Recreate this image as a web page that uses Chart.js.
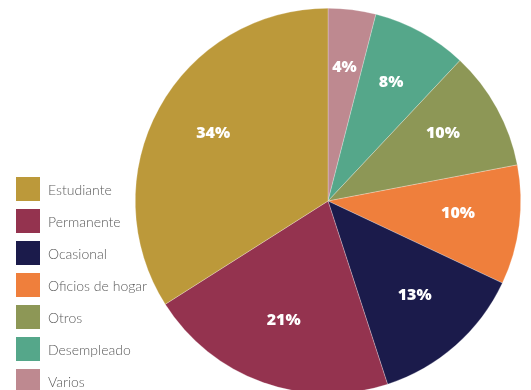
<!DOCTYPE html>
<html>
<head>
<meta charset="utf-8">
<script src="https://cdn.jsdelivr.net/npm/chart.js@4"></script>
<style>
    html, body {
        margin: 0;
        padding: 0;
        background: #ffffff;
        overflow: hidden;
    }
    #wrap {
        position: relative;
        width: 531px;
        height: 410px;
    }
    /* legend sits bottom-left, next to the pie */
    #leyenda {
        position: absolute;
        left: 16px;
        top: 177px;
        margin: 0;
        padding: 0;
        list-style: none;
        font-family: Lato, "Open Sans", sans-serif;
        font-weight: 300;
        font-size: 14px;
        color: #5a5a5a;
    }
    #leyenda li {
        display: flex;
        align-items: center;
        height: 24px;
        margin-bottom: 8px;
        white-space: nowrap;
    }
    #leyenda .box {
        width: 24px;
        height: 24px;
        margin-right: 8px;
    }
</style>
</head>
<body>
<div id="wrap">
    <canvas id="ocupacionChart"></canvas>
    <ul id="leyenda"></ul>
</div>
<script>
// Legend order (top to bottom)
const categorias = ['Estudiante', 'Permanente', 'Ocasional', 'Oficios de hogar', 'Otros', 'Desempleado', 'Varios'];
const porcentajes = [34, 21, 13, 10, 10, 8, 4];
const colores = ['#BC993A', '#94334F', '#1B1B4B', '#EF7F3C', '#8D9756', '#55A78A', '#BE8990'];

// Slices run clockwise from the top starting with "Varios",
// so the dataset is the legend order reversed
const labelsPie = categorias.slice().reverse();
const dataPie = porcentajes.slice().reverse();
const coloresPie = colores.slice().reverse();

// HTML legend
const leyenda = document.getElementById('leyenda');
categorias.forEach((nombre, i) => {
    const li = document.createElement('li');
    const box = document.createElement('span');
    box.className = 'box';
    box.style.background = colores[i];
    li.appendChild(box);
    li.appendChild(document.createTextNode(nombre));
    leyenda.appendChild(li);
});

// Draw the percentage inside each slice
const percentLabels = {
    id: 'percentLabels',
    afterDatasetsDraw(chart) {
        const ctx = chart.ctx;
        const meta = chart.getDatasetMeta(0);
        ctx.save();
        ctx.fillStyle = '#ffffff';
        ctx.font = '800 16px "Open Sans", "Noto Sans", sans-serif';
        ctx.textAlign = 'center';
        ctx.textBaseline = 'middle';
        meta.data.forEach((arc, i) => {
            const p = arc.getProps(['x', 'y', 'startAngle', 'endAngle', 'outerRadius'], true);
            const mid = (p.startAngle + p.endAngle) / 2;
            const r = p.outerRadius * 0.68;
            ctx.fillText(dataPie[i] + '%', p.x + Math.cos(mid) * r, p.y + Math.sin(mid) * r - 4);
        });
        ctx.restore();
    }
};

const ctx = document.getElementById('ocupacionChart').getContext('2d');
new Chart(ctx, {
    type: 'pie',
    data: {
        labels: labelsPie,
        datasets: [{
            data: dataPie,
            backgroundColor: coloresPie,
            borderColor: 'rgba(255, 255, 255, 0.5)',
            borderWidth: 0.5
        }]
    },
    options: {
        responsive: true,
        maintainAspectRatio: false,
        animation: false,
        layout: {
            padding: { left: 135, right: 10, top: 1, bottom: 9 }
        },
        plugins: {
            legend: { display: false },
            tooltip: { enabled: false }
        }
    },
    plugins: [percentLabels]
});
</script>
</body>
</html>
